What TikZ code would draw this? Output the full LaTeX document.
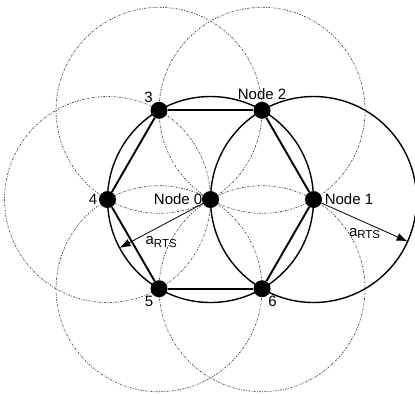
\documentclass[tikz,border=0pt]{standalone}
\usepackage{fontspec}
\setmainfont{Liberation Sans}
\usetikzlibrary{arrows.meta,calc,backgrounds}
\begin{document}
\begin{tikzpicture}[scale=3.62, font=\fontsize{15}{17}\selectfont, line join=round, line cap=round, >={Latex[length=11pt,width=8pt]}]
		\tikzset{station/.style={circle,fill=black,inner sep=0pt,minimum size=17pt},
			coverage/.style={draw=black!75,line width=0.7pt,dash pattern=on 1.8pt off 1.4pt on 0.7pt off 1.4pt},
			reach/.style={draw,line width=1.4pt},
			link/.style={draw,line width=1.9pt}}
		\useasboundingbox (-2.044,-1.879) rectangle (1.985,1.937);
		\node[station,label={[label distance=-4pt]left:Node 0}] (n0) at (0,0) {};
		\node[station,label={[label distance=-1pt]right:Node 1}] (n1) at (0:1) {};
		\node[station,label={[label distance=-2pt]above:Node 2}] (n2) at (60:1) {};
		\node[station,label={[label distance=-4pt]125:3}] (n3) at (120:1) {};
		\node[station,label={[label distance=-2pt]left:4}] (n4) at (180:1) {};
		\node[station,label={[label distance=-4pt]240:5}] (n5) at (240:1) {};
		\node[station,label={[label distance=-4pt]-55:6}] (n6) at (300:1) {};
		\coordinate (e0) at (208:1);
		\coordinate (e1) at ($(n1)+(-24:1)$);
		\begin{scope}[on background layer]
			\foreach \i in {2,...,6}\draw[coverage] (n\i.center) circle (1);
			\draw[reach] (n0.center) circle (1);
			\draw[reach] (n1.center) circle (1);
			\foreach \a/\b in {1/2,2/3,3/4,4/5,5/6,6/1}\draw[link] (n\a) -- (n\b);
		\end{scope}
		\draw[->,line width=0.8pt] (n0) -- node[pos=0.5,below=7pt] {a\raisebox{-0.35ex}{\fontsize{11.5}{13}\selectfont RTS}} (e0);
		\draw[->,line width=0.8pt] (n1) -- node[pos=0.5,below=2pt] {a\raisebox{-0.35ex}{\fontsize{11.5}{13}\selectfont RTS}} (e1);
\end{tikzpicture}
\end{document}
